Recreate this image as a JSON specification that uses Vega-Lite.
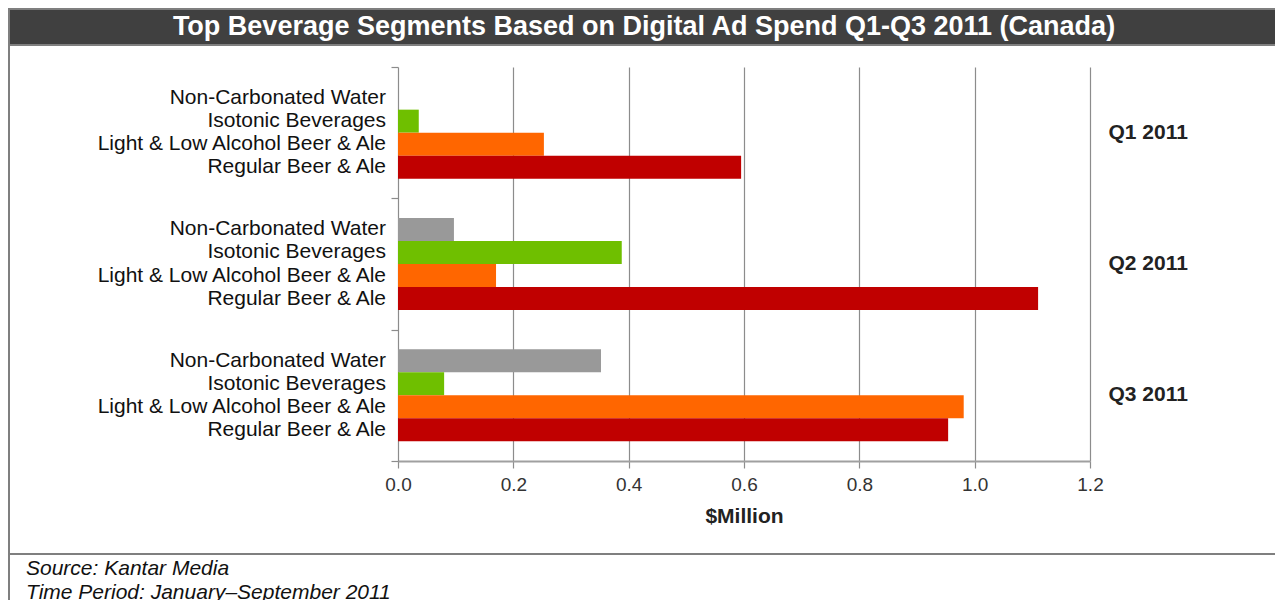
{
  "$schema": "https://vega.github.io/schema/vega-lite/v6.json",
  "padding": {"left": 8, "top": 8, "right": 0, "bottom": 0},
  "background": "white",
  "spacing": 0,
  "bounds": "flush",
  "config": {
    "font": "Liberation Sans",
    "view": {"stroke": null},
    "concat": {"spacing": 0}
  },
  "vconcat": [
    {
      "width": 1270,
      "height": 36,
      "view": {"fill": "#404040", "stroke": "#7f7f7f", "strokeWidth": 2},
      "data": {"values": [{"t": "Top Beverage Segments Based on Digital Ad Spend Q1-Q3 2011 (Canada)"}]},
      "mark": {"type": "text", "color": "white", "fontWeight": "bold", "fontSize": 27, "baseline": "middle", "align": "center", "font": "Liberation Sans"},
      "encoding": {"text": {"field": "t"}}
    },
    {
      "width": 1270,
      "height": 509,
      "view": {"fill": "white", "stroke": "#7f7f7f", "strokeWidth": 2},
      "data": {
        "values": [
          {"quarter": "Q1 2011", "segment": "Non-Carbonated  Water", "spend": 0},
          {"quarter": "Q1 2011", "segment": "Isotonic Beverages", "spend": 0.036},
          {"quarter": "Q1 2011", "segment": "Light & Low Alcohol Beer & Ale", "spend": 0.253},
          {"quarter": "Q1 2011", "segment": "Regular Beer & Ale", "spend": 0.595},
          {"quarter": "Q2 2011", "segment": "Non-Carbonated  Water", "spend": 0.097},
          {"quarter": "Q2 2011", "segment": "Isotonic Beverages", "spend": 0.388},
          {"quarter": "Q2 2011", "segment": "Light & Low Alcohol Beer & Ale", "spend": 0.17},
          {"quarter": "Q2 2011", "segment": "Regular Beer & Ale", "spend": 1.11},
          {"quarter": "Q3 2011", "segment": "Non-Carbonated  Water", "spend": 0.352},
          {"quarter": "Q3 2011", "segment": "Isotonic Beverages", "spend": 0.08},
          {"quarter": "Q3 2011", "segment": "Light & Low Alcohol Beer & Ale", "spend": 0.981},
          {"quarter": "Q3 2011", "segment": "Regular Beer & Ale", "spend": 0.954}
        ]
      },
      "layer": [
        {
          "mark": {"type": "bar"},
          "encoding": {
            "x": {
              "field": "spend", "type": "quantitative",
              "scale": {"domain": [0, 1.2], "range": [389, 1081], "nice": false, "zero": true},
              "axis": {
                "orient": "bottom",
                "values": [0, 0.2, 0.4, 0.6, 0.8, 1.0, 1.2],
                "format": ".1f",
                "title": "$Million",
                "titleFontSize": 21, "titleFontWeight": "bold", "titleColor": "#222",
                "titlePadding": 11,
                "labelFontSize": 19, "labelColor": "#333", "labelPadding": 7, "labelFlush": false,
                "offset": -93,
                "grid": false,
                "domainColor": "#a0a0a0", "domainWidth": 2,
                "tickColor": "#8c8c8c", "tickSize": 7, "tickWidth": 1.2
              }
            },
            "y": {
              "field": "quarter", "type": "nominal",
              "scale": {"domain": ["Q1 2011", "Q2 2011", "Q3 2011"], "range": [22, 416], "paddingInner": 0, "paddingOuter": 0},
              "axis": {
                "orient": "left", "offset": -389, "labels": false, "title": null,
                "ticks": true, "tickBand": "extent", "tickSize": 7, "tickColor": "#8c8c8c", "tickWidth": 1.2,
                "domain": true, "domainColor": "#8c8c8c", "domainWidth": 1.2, "grid": false
              }
            },
            "yOffset": {
              "field": "segment", "type": "nominal",
              "sort": ["Non-Carbonated  Water", "Isotonic Beverages", "Light & Low Alcohol Beer & Ale", "Regular Beer & Ale"],
              "scale": {"paddingInner": 0, "paddingOuter": 0.854}
            },
            "color": {
              "field": "segment", "type": "nominal",
              "scale": {
                "domain": ["Non-Carbonated  Water", "Isotonic Beverages", "Light & Low Alcohol Beer & Ale", "Regular Beer & Ale"],
                "range": ["#999999", "#6fbf00", "#ff6600", "#c00000"]
              },
              "legend": null
            }
          }
        },
        {
          "mark": {"type": "text", "align": "right", "baseline": "middle", "dx": -12, "fontSize": 21, "color": "#111"},
          "encoding": {
            "x": {
              "datum": 0, "type": "quantitative",
              "axis": {
                "orient": "top", "values": [0.2, 0.4, 0.6, 0.8, 1.0, 1.2],
                "grid": true, "gridColor": "#8c8c8c", "gridWidth": 1.2,
                "labels": false, "ticks": false, "domain": false, "title": null
              }
            },
            "y": {
              "field": "quarter", "type": "nominal",
              "axis": {
                "orient": "right", "offset": -189, "labelPadding": 18, "title": null,
                "ticks": false, "domain": false, "grid": false,
                "labelAlign": "left", "labelFontWeight": "bold", "labelFontSize": 21, "labelColor": "#222"
              }
            },
            "yOffset": {
              "field": "segment", "type": "nominal",
              "sort": ["Non-Carbonated  Water", "Isotonic Beverages", "Light & Low Alcohol Beer & Ale", "Regular Beer & Ale"]
            },
            "text": {"field": "segment"}
          }
        }
      ],
      "resolve": {"axis": {"y": "independent", "x": "independent"}}
    },
    {
      "width": 1270,
      "height": 54,
      "view": {"fill": "white", "stroke": "#7f7f7f", "strokeWidth": 2},
      "data": {"values": [{"line": "Source: Kantar Media"}, {"line": "Time Period: January–September 2011"}]},
      "mark": {"type": "text", "align": "left", "baseline": "middle", "dx": 17, "fontSize": 21, "fontStyle": "italic", "color": "#111"},
      "encoding": {
        "x": {"datum": 0, "type": "quantitative", "scale": {"domain": [0, 1]}, "axis": null},
        "y": {"field": "line", "type": "ordinal", "sort": null, "scale": {"type": "point", "padding": 0.625}, "axis": null},
        "text": {"field": "line"}
      }
    }
  ]
}
